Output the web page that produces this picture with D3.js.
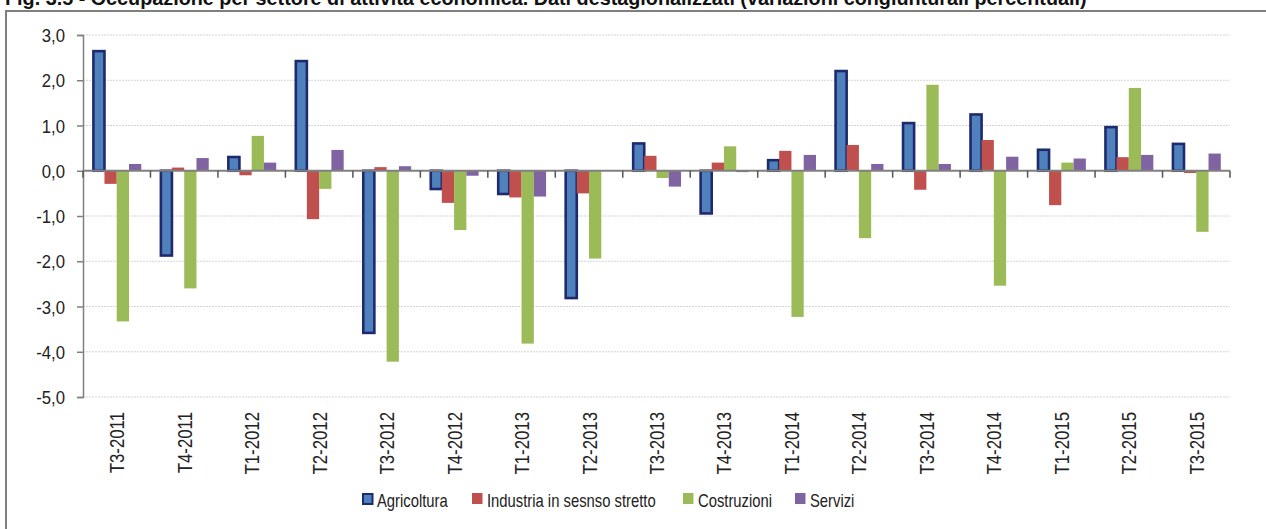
<!DOCTYPE html>
<html><head><meta charset="utf-8">
<script src="https://cdn.jsdelivr.net/npm/d3@7"></script>
<style>body{margin:0;background:#fff}svg{display:block}</style>
</head><body>
<svg id="c" width="1266" height="529"></svg>
<script>
const title = "Fig. 3.5 - Occupazione per settore di attività economica. Dati destagionalizzati (variazioni congiunturali percentuali)";
const categories = ["T3-2011","T4-2011","T1-2012","T2-2012","T3-2012","T4-2012","T1-2013","T2-2013","T3-2013","T4-2013","T1-2014","T2-2014","T3-2014","T4-2014","T1-2015","T2-2015","T3-2015"];
const seriesNames = ["Agricoltura","Industria in sesnso stretto","Costruzioni","Servizi"];
const agricoltura = [2.67,-1.90,0.33,2.45,-3.61,-0.43,-0.54,-2.84,0.63,-0.97,0.26,2.23,1.08,1.27,0.49,0.99,0.62];
const industria   = [-0.29,0.07,-0.10,-1.07,0.08,-0.71,-0.59,-0.50,0.33,0.18,0.44,0.57,-0.42,0.68,-0.76,0.30,-0.05];
const costruzioni = [-3.33,-2.60,0.77,-0.40,-4.22,-1.31,-3.82,-1.94,-0.16,0.54,-3.23,-1.49,1.90,-2.54,0.18,1.83,-1.35];
const servizi     = [0.15,0.28,0.18,0.46,0.10,-0.11,-0.57,0.01,-0.35,-0.03,0.35,0.15,0.15,0.31,0.27,0.35,0.38];
const yTicks = [3,2,1,0,-1,-2,-3,-4,-5];

const seriesValues = [agricoltura, industria, costruzioni, servizi];
const colors = ["#4F81BD","#C0504D","#9BBB59","#8064A2"];
const strokes = ["#1F2A6E", null, null, null];
const FONT = "Liberation Sans, Arial, sans-serif";

const svg = d3.select("#c");
const L = 83, R = 1230, T = 35, B = 397;
const y = d3.scaleLinear().domain([-5,3]).range([B,T]);
const x0 = d3.scaleBand().domain(categories).range([L,R]).paddingInner(0).paddingOuter(0);
const x1 = d3.scaleBand().domain(d3.range(4)).range([9.2, x0.bandwidth()-9.2]).padding(0);
const fmt = v => d3.format(".1f")(v).replace(".", ",").replace("−","-");

// frame
svg.append("rect").attr("x",6).attr("y",11).attr("width",1280).attr("height",540)
  .attr("fill","none").attr("stroke","#7f7f7f").attr("stroke-width",2);
// title (partly cut at top, as in the source image)
svg.append("text").attr("x",5).attr("y",5).attr("font-family",FONT)
  .attr("font-weight","bold").attr("font-size",19.8).attr("fill","#111").text(title);

// gridlines
svg.append("g").selectAll("line").data(yTicks.filter(d=>d!==0)).join("line")
  .attr("x1",L).attr("x2",R).attr("y1",d=>y(d)).attr("y2",d=>y(d))
  .attr("stroke","#d4d4d4").attr("stroke-width",1).attr("stroke-dasharray","2,1");

// y axis
const ya = svg.append("g").attr("transform",`translate(${L},0)`)
  .call(d3.axisLeft(y).tickValues(yTicks).tickFormat("").tickSize(6));
ya.select(".domain").attr("stroke","#808080").attr("stroke-width",1.5);
ya.selectAll(".tick line").attr("stroke","#808080").attr("stroke-width",1.5);
svg.append("g").selectAll("text").data(yTicks).join("text")
  .attr("transform",d=>`translate(65,${y(d)+7}) scale(0.88,1)`)
  .attr("text-anchor","end").attr("font-family",FONT).attr("font-size",19)
  .attr("fill","#222").text(fmt);

// bars
const g = svg.append("g");
categories.forEach((c,i)=>{
  seriesValues.forEach((arr,s)=>{
    const v = arr[i];
    const bx = x0(c)+x1(s), bw = x1.bandwidth();
    const y0 = y(Math.max(0,v)), h = Math.abs(y(v)-y(0));
    if (s===0) {
      g.append("rect").attr("x",bx+1.2).attr("y",y0+ (v>=0?1.2:0)).attr("width",bw-1.2)
       .attr("height",Math.max(0,h-1.2)).attr("fill",colors[s]).attr("stroke",strokes[s]).attr("stroke-width",2.6);
    } else {
      g.append("rect").attr("x",bx).attr("y",y0).attr("width",bw).attr("height",h)
       .attr("fill",colors[s]);
    }
  });
});

// zero line and x ticks
svg.append("line").attr("x1",L).attr("x2",R).attr("y1",y(0)).attr("y2",y(0))
  .attr("stroke","#808080").attr("stroke-width",2);
const xa = svg.append("g").attr("transform",`translate(0,${y(0)})`);
xa.selectAll("line").data(d3.range(categories.length+1)).join("line")
  .attr("x1",i=>L+i*x0.bandwidth()).attr("x2",i=>L+i*x0.bandwidth())
  .attr("y1",0).attr("y2",7).attr("stroke","#555").attr("stroke-width",1.5);

// x labels
svg.append("g").selectAll("text").data(categories).join("text")
  .attr("transform",d=>`translate(${x0(d)+x0.bandwidth()/2+7.5},412) rotate(-90) scale(0.8,1)`)
  .attr("text-anchor","end").attr("font-family",FONT)
  .attr("font-size",21).attr("fill","#222").text(d=>d);

// legend
const legX = [362,472,683,795];
const lg = svg.append("g");
seriesNames.forEach((n,s)=>{
  if (s===0) lg.append("rect").attr("x",legX[s]+1).attr("y",494).attr("width",9.5).attr("height",10)
      .attr("fill",colors[s]).attr("stroke",strokes[s]).attr("stroke-width",2);
  else lg.append("rect").attr("x",legX[s]).attr("y",493).attr("width",10.5).attr("height",11).attr("fill",colors[s]);
  lg.append("text").attr("transform",`translate(${legX[s]+15},507) scale(0.8,1)`).attr("font-family",FONT)
    .attr("font-size",18.5).attr("fill","#222").text(n);
});
</script>
</body></html>
